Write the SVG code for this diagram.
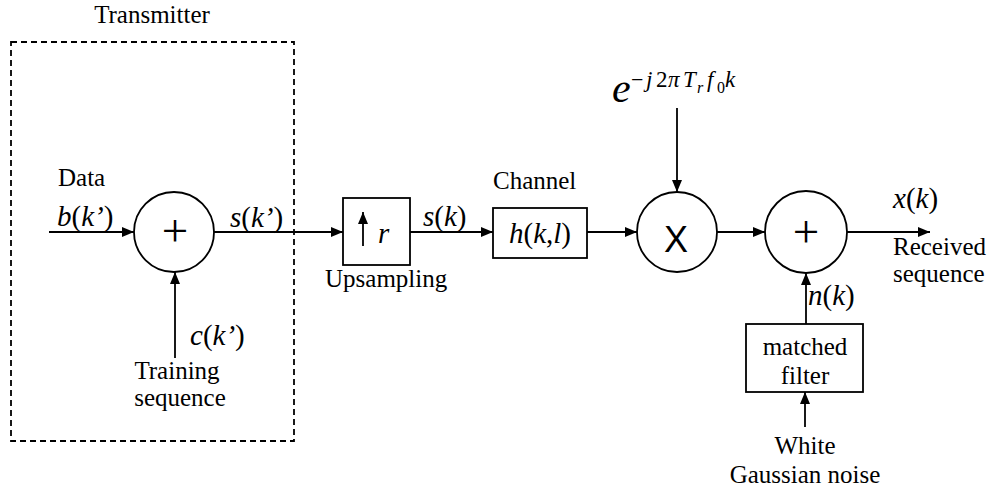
<svg xmlns="http://www.w3.org/2000/svg" width="993" height="493" viewBox="0 0 993 493" font-family="Times New Roman, Liberation Serif, DejaVu Serif, serif">
  <defs>
    <marker id="arrow" viewBox="0 0 12 10" refX="12" refY="5" markerWidth="12" markerHeight="10" markerUnits="userSpaceOnUse" orient="auto">
      <path d="M0,0 L12,5 L0,10 z" fill="#000"/>
    </marker>
    <style>
      text { font-family: "Times New Roman", "Liberation Serif", "DejaVu Serif", serif; }
      .arr { stroke: #000; stroke-width: 1.8; fill: none; marker-end: url(#arrow); }
      .shape { stroke: #000; stroke-width: 1.8; fill: #fff; }
      .lbl { font-size: 25px; fill: #000; }
      .math { font-size: 29px; fill: #000; }
      .it { font-style: italic; }
      .op { font-size: 47px; fill: #000; text-anchor: middle; }
      .sans { font-family: "Liberation Sans", Arial, sans-serif; }
    </style>
  </defs>

  <rect width="993" height="493" fill="#fff"/>

  <!-- transmitter boundary -->
  <g id="transmitter">
    <rect x="11" y="42" width="283" height="399" fill="none" stroke="#000" stroke-width="1.8" stroke-dasharray="6 4"/>
    <text class="lbl" x="152" y="23" text-anchor="middle">Transmitter</text>
  </g>

  <!-- connectors -->
  <g id="connectors">
    <line class="arr" x1="49" y1="232" x2="134" y2="232"/>
    <line class="arr" x1="214" y1="232" x2="343" y2="232"/>
    <line class="arr" x1="175" y1="358" x2="175" y2="272"/>
    <line class="arr" x1="410" y1="232" x2="493" y2="232"/>
    <line class="arr" x1="587" y1="232" x2="637" y2="232"/>
    <line class="arr" x1="677" y1="108" x2="677" y2="192"/>
    <line class="arr" x1="717" y1="232" x2="765" y2="232"/>
    <line class="arr" x1="847" y1="232" x2="930" y2="232"/>
    <line class="arr" x1="806" y1="324" x2="806" y2="273"/>
    <line class="arr" x1="805" y1="427" x2="805" y2="392"/>
  </g>

  <!-- summing junction: data + training -->
  <g id="adder-tx">
    <circle class="shape" cx="174" cy="232" r="40"/>
    <text class="op" x="175" y="246">+</text>
  </g>

  <g id="data-input">
    <text class="lbl" x="58" y="186">Data</text>
    <text class="math" x="57" y="226"><tspan class="it">b</tspan>(<tspan class="it">k’</tspan>)</text>
  </g>

  <g id="training-input">
    <text class="math" x="190" y="345"><tspan class="it">c</tspan>(<tspan class="it">k’</tspan>)</text>
    <text class="lbl" x="177" y="379" text-anchor="middle">Training</text>
    <text class="lbl" x="180" y="406" text-anchor="middle">sequence</text>
  </g>

  <g id="tx-output">
    <text class="math" x="230" y="227"><tspan class="it">s</tspan>(<tspan class="it">k’</tspan>)</text>
  </g>

  <!-- upsampler -->
  <g id="upsampler">
    <rect class="shape" x="343" y="198" width="67" height="67"/>
    <line x1="363" y1="246" x2="363" y2="212" stroke="#000" stroke-width="1.8" marker-end="url(#arrow)"/>
    <text class="math it" x="378" y="243" font-size="34">r</text>
    <text class="lbl" x="325" y="287">Upsampling</text>
  </g>

  <g id="upsampled-signal">
    <text class="math" x="423" y="226"><tspan class="it">s</tspan>(<tspan class="it">k</tspan>)</text>
  </g>

  <!-- channel -->
  <g id="channel">
    <rect class="shape" x="493" y="208" width="94" height="50"/>
    <text class="math" x="540" y="243" text-anchor="middle"><tspan class="it">h</tspan>(<tspan class="it">k</tspan>,<tspan class="it">l</tspan>)</text>
    <text class="lbl" x="493" y="189">Channel</text>
  </g>

  <!-- frequency offset mixer -->
  <g id="mixer">
    <circle class="shape" cx="677" cy="232" r="40"/>
    <text class="sans" x="676" y="252" text-anchor="middle" font-size="36" fill="#000">X</text>
  </g>

  <g id="carrier">
    <text fill="#000">
      <tspan x="612" y="102" font-size="42" font-style="italic">e</tspan>
      <tspan x="631" y="87" font-size="22">−</tspan>
      <tspan x="646" y="87" font-size="23" font-style="italic">j</tspan>
      <tspan x="656" y="87" font-size="23">2</tspan>
      <tspan x="668" y="87" font-size="23" font-style="italic">π</tspan>
      <tspan x="683" y="87" font-size="23" font-style="italic">T</tspan>
      <tspan x="697" y="93" font-size="16" font-style="italic">r</tspan>
      <tspan x="707" y="87" font-size="23" font-style="italic">f</tspan>
      <tspan x="717" y="93" font-size="16">0</tspan>
      <tspan x="725" y="87" font-size="23" font-style="italic">k</tspan>
    </text>
  </g>

  <!-- noise adder -->
  <g id="adder-rx">
    <circle class="shape" cx="806" cy="232" r="41"/>
    <text class="op" x="806" y="247">+</text>
    <text class="math" x="808" y="305"><tspan class="it">n</tspan>(<tspan class="it">k</tspan>)</text>
  </g>

  <g id="received">
    <text class="math" x="893" y="208"><tspan class="it">x</tspan>(<tspan class="it">k</tspan>)</text>
    <text class="lbl" x="893" y="255">Received</text>
    <text class="lbl" x="893" y="282">sequence</text>
  </g>

  <!-- noise shaping -->
  <g id="matched-filter">
    <rect class="shape" x="746" y="324" width="117" height="68"/>
    <text class="lbl" x="805" y="355" text-anchor="middle">matched</text>
    <text class="lbl" x="805" y="384" text-anchor="middle">filter</text>
  </g>

  <g id="noise-source">
    <text class="lbl" x="805" y="454" text-anchor="middle">White</text>
    <text class="lbl" x="805" y="483" text-anchor="middle">Gaussian noise</text>
  </g>
</svg>
